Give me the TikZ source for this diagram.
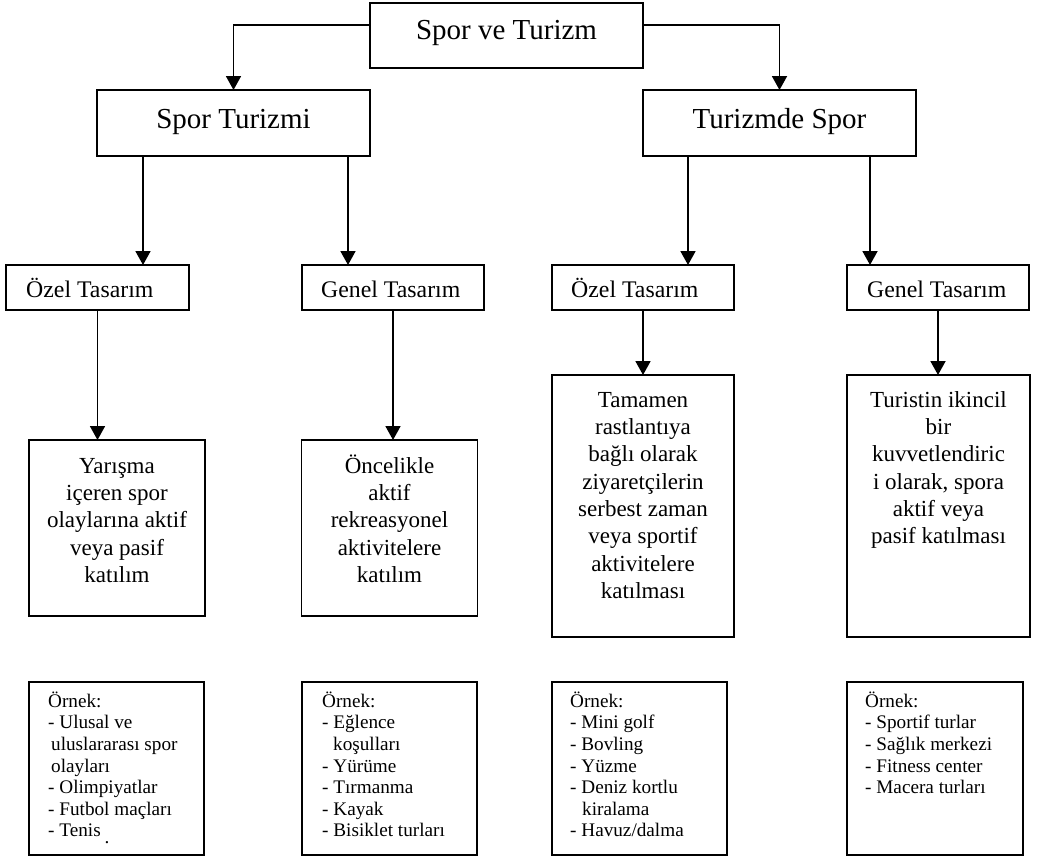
\documentclass[tikz,border=0pt]{standalone}
\usepackage{fontspec}
\setmainfont{Liberation Serif}
\usetikzlibrary{arrows.meta,calc}

\tikzset{
  box/.style={draw=black, line width=1.8pt, inner sep=0pt, outer sep=0pt, rectangle},
  arr/.style={line width=1.8pt, -{Triangle[width=15pt,length=14pt]}},
  topfont/.style={font=\fontsize{29}{34}\selectfont},
  midfont/.style={font=\fontsize{23.8}{28}\selectfont},
  descfont/.style={font=\fontsize{23}{27.3}\selectfont, align=center, inner sep=0pt},
  listfont/.style={font=\fontsize{19.2}{21.6}\selectfont, align=left, inner sep=0pt},
  lbl/.style={inner sep=0pt}
}

\begin{document}
\begin{tikzpicture}[x=1pt,y=-1pt]
\useasboundingbox[fill=white] (0,0) rectangle (1038,859);

% root
\node[box, minimum width=273pt, minimum height=65pt] (top) at (506.5,35.5) {};
\node[lbl, topfont, anchor=base] (ttop) at ($(top.north)+(0,37)$) {Spor ve Turizm};

% first level
\node[box, minimum width=273pt, minimum height=66pt] (st) at (233.5,123) {};
\node[lbl, topfont, anchor=base] (tst) at ($(st.north)+(0,38)$) {Spor Turizmi};
\node[box, minimum width=273pt, minimum height=66pt] (ts) at (779.5,123) {};
\node[lbl, topfont, anchor=base] (tts) at ($(ts.north)+(0,38)$) {Turizmde Spor};

% second level
\node[box, minimum width=183pt, minimum height=45pt] (oz1) at (97.5,287.5) {};
\node[lbl, midfont, anchor=base west] (toz1) at ($(oz1.north west)+(20,32)$) {Özel Tasarım};
\node[box, minimum width=182pt, minimum height=45pt] (ge1) at (393,287.5) {};
\node[lbl, midfont, anchor=base west] (tge1) at ($(ge1.north west)+(19,32)$) {Genel Tasarım};
\node[box, minimum width=182pt, minimum height=45pt] (oz2) at (643,287.5) {};
\node[lbl, midfont, anchor=base west] (toz2) at ($(oz2.north west)+(19,32)$) {Özel Tasarım};
\node[box, minimum width=182pt, minimum height=45pt] (ge2) at (938,287.5) {};
\node[lbl, midfont, anchor=base west] (tge2) at ($(ge2.north west)+(20,32)$) {Genel Tasarım};

% descriptions
\node[box, minimum width=176pt, minimum height=176pt] (d1) at (117,528) {};
\node[descfont, anchor=north] (td1) at ($(d1.north)+(0,11)$)
  {\rule{0pt}{22pt}Yarışma\\içeren spor\\olaylarına aktif\\veya pasif\\katılım};
\node[box, minimum width=176pt, minimum height=176pt] (d2) at (389.5,528) {};
\node[descfont, anchor=north] (td2) at ($(d2.north)+(0,11)$)
  {\rule{0pt}{22pt}Öncelikle\\aktif\\rekreasyonel\\aktivitelere\\katılım};
\node[box, minimum width=182pt, minimum height=262pt] (d3) at (643,506) {};
\node[descfont, anchor=north] (td3) at ($(d3.north)+(0,10)$)
  {\rule{0pt}{22pt}Tamamen\\rastlantıya\\bağlı olarak\\ziyaretçilerin\\serbest zaman\\veya sportif\\aktivitelere\\katılması};
\node[box, minimum width=183pt, minimum height=262pt] (d4) at (938.5,506) {};
\node[descfont, anchor=north] (td4) at ($(d4.north)+(0,10)$)
  {\rule{0pt}{22pt}Turistin ikincil\\bir\\kuvvetlendiric\\i olarak, spora\\aktif veya\\pasif katılması};

% examples
\node[box, minimum width=175pt, minimum height=173pt] (e1) at (116.5,768.5) {};
\node[listfont, anchor=north west] (te1) at ($(e1.north west)+(19,6)$)
  {\rule{0pt}{19pt}Örnek:\\- Ulusal ve\\\hspace*{3pt}uluslararası spor\\\hspace*{3pt}olayları\\- Olimpiyatlar\\- Futbol maçları\\- Tenis};
\node[lbl, listfont, anchor=base] (dot) at (107,843.5) {.};
\node[box, minimum width=175pt, minimum height=173pt] (e2) at (389.5,768.5) {};
\node[listfont, anchor=north west] (te2) at ($(e2.north west)+(20,6)$)
  {\rule{0pt}{19pt}Örnek:\\- Eğlence\\\hspace*{11pt}koşulları\\- Yürüme\\- Tırmanma\\- Kayak\\- Bisiklet turları};
\node[box, minimum width=175pt, minimum height=173pt] (e3) at (639.5,768.5) {};
\node[listfont, anchor=north west] (te3) at ($(e3.north west)+(18,6)$)
  {\rule{0pt}{19pt}Örnek:\\- Mini golf\\- Bovling\\- Yüzme\\- Deniz kortlu\\\hspace*{12pt}kiralama\\- Havuz/dalma};
\node[box, minimum width=176pt, minimum height=173pt] (e4) at (935,768.5) {};
\node[listfont, anchor=north west] (te4) at ($(e4.north west)+(18,6)$)
  {\rule{0pt}{19pt}Örnek:\\- Sportif turlar\\- Sağlık merkezi\\- Fitness center\\- Macera turları};

% connectors
\draw[arr] ([yshift=10.5pt]top.west) -| (st.north);
\draw[arr] ([yshift=10.5pt]top.east) -| (ts.north);

\draw[arr] ([xshift=-90.5pt]st.south) -- ([xshift=-90.5pt]st.south |- oz1.north);
\draw[arr] ([xshift=114.5pt]st.south) -- ([xshift=114.5pt]st.south |- ge1.north);
\draw[arr] ([xshift=-91.5pt]ts.south) -- ([xshift=-91.5pt]ts.south |- oz2.north);
\draw[arr] ([xshift=90.5pt]ts.south) -- ([xshift=90.5pt]ts.south |- ge2.north);

\draw[arr] (oz1.south) -- (oz1.south |- d1.north);
\draw[arr] (ge1.south) -- (ge1.south |- d2.north);
\draw[arr] (oz2.south) -- (oz2.south |- d3.north);
\draw[arr] (ge2.south) -- (ge2.south |- d4.north);
\end{tikzpicture}
\end{document}
